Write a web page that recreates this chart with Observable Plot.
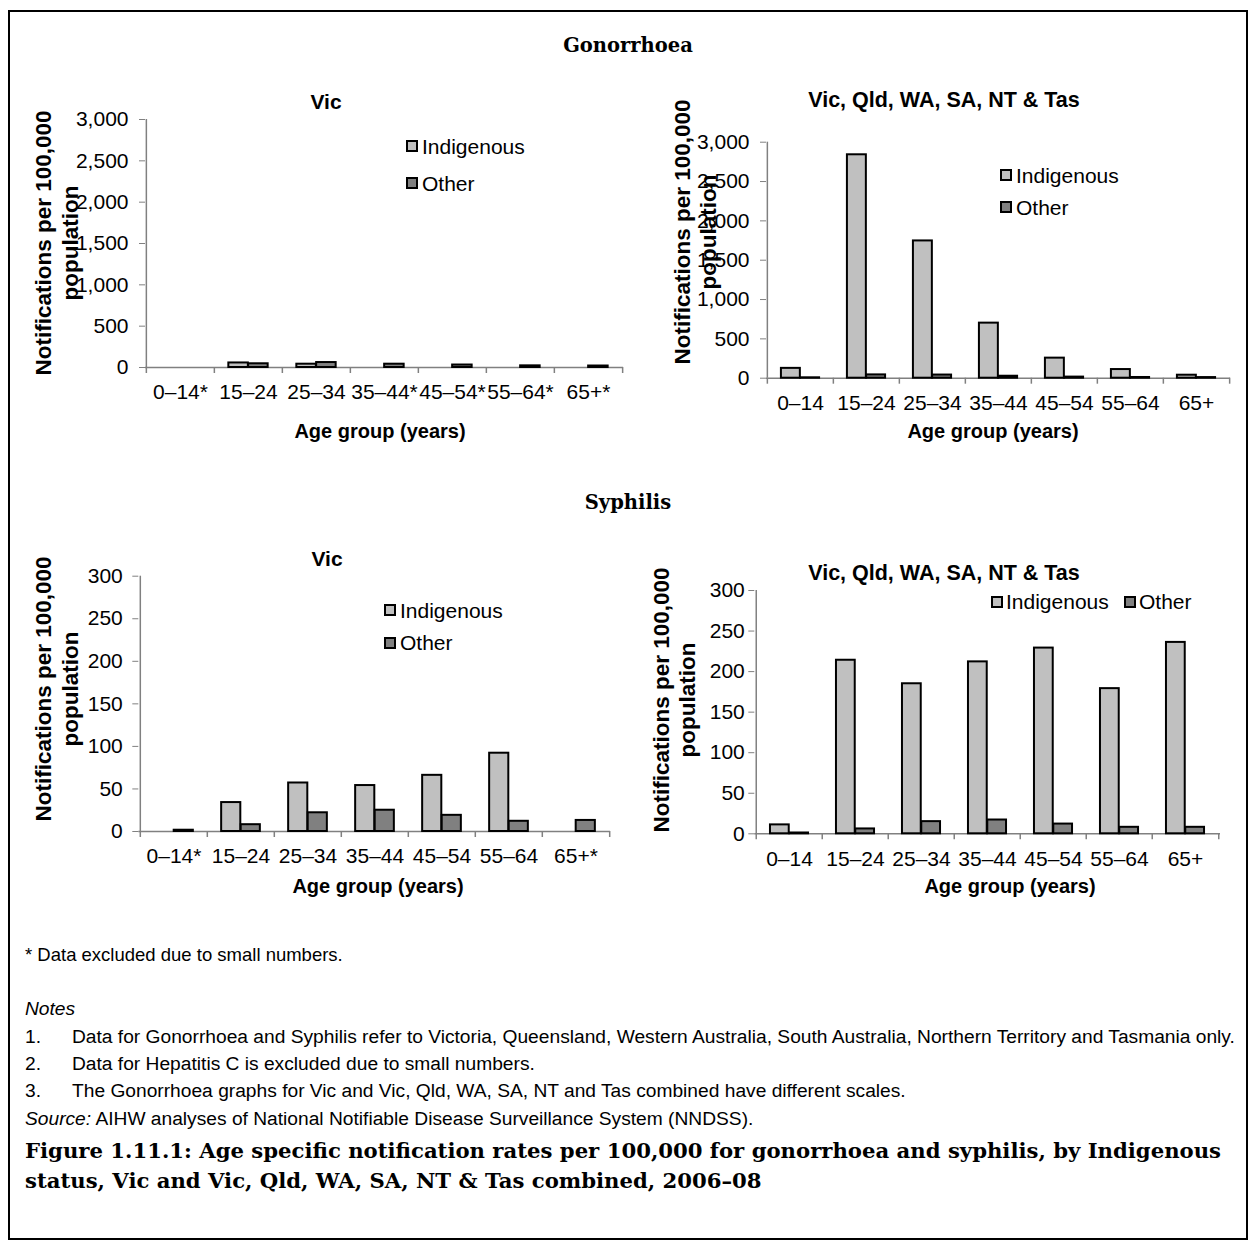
<!DOCTYPE html>
<html>
<head>
<meta charset="utf-8">
<script src="https://cdn.jsdelivr.net/npm/d3@7"></script>
<script src="https://cdn.jsdelivr.net/npm/@observablehq/plot@0.6"></script>
<style>
  body { margin: 0; background: #fff; }
  #page { position: relative; width: 1255px; height: 1247px; font-family: "Liberation Sans", Arial, sans-serif; color: #000; overflow: hidden; }
  #border { position: absolute; left: 8px; top: 10px; width: 1240px; height: 1230px; border: 2px solid #000; box-sizing: border-box; }
  .t { position: absolute; white-space: nowrap; line-height: 1; }
  .serif { font-family: "DejaVu Serif", serif; font-weight: bold; }
  .b { font-weight: bold; }
  .sw { position: absolute; box-sizing: border-box; width: 12px; height: 12px; border: 2px solid #000; }
  svg { position: absolute; }
</style>
</head>
<body>
<div id="page"><div id="border"></div></div>
<script>
// ---------------- data ----------------
const seriesNames = ["Indigenous", "Other"];
const seriesFills = ["#c0c0c0", "#808080"];

const gonVicAges = ["0–14*", "15–24", "25–34", "35–44*", "45–54*", "55–64*", "65+*"];
const gonVicIndigenous = [null, 55, 40, null, null, null, null];
const gonVicOther = [null, 45, 60, 40, 30, 20, 18];

const gonAllAges = ["0–14", "15–24", "25–34", "35–44", "45–54", "55–64", "65+"];
const gonAllIndigenous = [125, 2840, 1745, 700, 255, 110, 38];
const gonAllOther = [5, 42, 40, 25, 14, 9, 8];

const syphVicAges = ["0–14*", "15–24", "25–34", "35–44", "45–54", "55–64", "65+*"];
const syphVicIndigenous = [null, 34, 57, 54, 66, 92, null];
const syphVicOther = [1.5, 8, 22, 25, 19, 12, 13];

const syphAllAges = ["0–14", "15–24", "25–34", "35–44", "45–54", "55–64", "65+"];
const syphAllIndigenous = [11, 214, 185, 212, 229, 179, 236];
const syphAllOther = [1, 6, 15, 17, 12, 8, 8];

const gonTicks = [0, 500, 1000, 1500, 2000, 2500, 3000];
const syphTicks = [0, 50, 100, 150, 200, 250, 300];

// ---------------- helpers ----------------
const page = document.getElementById("page");
const fmt = d3.format(",");

function text(str, x, y, opts = {}) {
  const d = document.createElement("div");
  d.className = "t " + (opts.cls || "");
  d.innerHTML = str;
  d.style.left = x + "px";
  d.style.top = y + "px";
  d.style.fontSize = (opts.size || 20) + "px";
  const ax = opts.anchor === "start" ? "0" : "-50%";
  d.style.transform = `translate(${ax}, -50%)` + (opts.rotate ? ` rotate(${opts.rotate}deg)` : "");
  if (opts.align) d.style.textAlign = opts.align;
  if (opts.lh) d.style.lineHeight = opts.lh + "px";
  page.appendChild(d);
  return d;
}

function swatch(x, y, fill) {
  const s = document.createElement("div");
  s.className = "sw";
  s.style.left = x + "px";
  s.style.top = y + "px";
  s.style.background = fill;
  page.appendChild(s);
}

function chart({ages, ind, oth, ticks, sx, sy, w, h, fl, fr, ft, fb, tickPad}) {
  const ml = fl - sx, mr = sx + w - fr, mt = ft - sy, mb = sy + h - fb;
  const bw = (fr - fl) / ages.length;
  const innerH = fb - ft;
  const rows = (vals, s) => ages.map((a, i) => ({age: a, series: s, value: vals[i]})).filter(d => d.value != null);
  const axisGray = "#808080";
  const svg = Plot.plot({
    width: w, height: h,
    marginLeft: ml, marginRight: mr, marginTop: mt, marginBottom: mb,
    style: {fontFamily: '"Liberation Sans", Arial, sans-serif', fontSize: "21px", color: "#000", background: "none", overflow: "visible"},
    x: {type: "band", domain: ages, padding: 0},
    y: {domain: [0, ticks[ticks.length - 1]]},
    marks: [
      Plot.axisY({ticks, tickSize: 6, tickPadding: tickPad, tickFormat: fmt, stroke: axisGray, label: null, fontSize: 21}),
      Plot.axisX({tickSize: 0, tickPadding: 17, label: null, fontSize: 21}),
      Plot.ruleX([ages[0]], {dx: -bw / 2, stroke: axisGray, strokeWidth: 1.5}),
      Plot.ruleX(ages, {dx: -bw / 2, insetTop: innerH, insetBottom: -6, stroke: axisGray, strokeWidth: 1.5}),
      Plot.ruleX([ages[ages.length - 1]], {dx: bw / 2, insetTop: innerH, insetBottom: -6, stroke: axisGray, strokeWidth: 1.5}),
      Plot.ruleY([0], {stroke: axisGray, strokeWidth: 1.5}),
      Plot.barY(rows(ind, seriesNames[0]), {x: "age", y: "value", fill: seriesFills[0], stroke: "#000", strokeWidth: 2, insetLeft: 0.21 * bw, insetRight: 0.5 * bw}),
      Plot.barY(rows(oth, seriesNames[1]), {x: "age", y: "value", fill: seriesFills[1], stroke: "#000", strokeWidth: 2, insetLeft: 0.5 * bw, insetRight: 0.21 * bw})
    ]
  });
  svg.style.left = sx + "px";
  svg.style.top = sy + "px";
  page.appendChild(svg);
}

const yTitle = "Notifications per 100,000<br>population";
const ySize = 22.5;

// ---------------- Gonorrhoea ----------------
text("Gonorrhoea", 628, 46, {cls: "serif", size: 19.5});

chart({ages: gonVicAges, ind: gonVicIndigenous, oth: gonVicOther, ticks: gonTicks,
  sx: 0, sy: 100, w: 640, h: 320, fl: 145, fr: 623, ft: 119, fb: 367, tickPad: 11});
text("Vic", 326, 101, {cls: "b", size: 21});
text("Age group (years)", 380, 431, {cls: "b", size: 20});
text(yTitle, 57, 243, {cls: "b", size: ySize, rotate: -90, align: "center", lh: 27});
swatch(406, 140, seriesFills[0]); text("Indigenous", 422, 146, {anchor: "start", size: 21});
swatch(406, 177, seriesFills[1]); text("Other", 422, 183, {anchor: "start", size: 21});

chart({ages: gonAllAges, ind: gonAllIndigenous, oth: gonAllOther, ticks: gonTicks,
  sx: 640, sy: 110, w: 610, h: 320, fl: 766, fr: 1230, ft: 141.7, fb: 377.7, tickPad: 11});
text("Vic, Qld, WA, SA, NT &amp; Tas", 944, 101, {cls: "b", size: 21.5});
text("Age group (years)", 993, 431, {cls: "b", size: 20});
text(yTitle, 696, 232, {cls: "b", size: ySize, rotate: -90, align: "center", lh: 26});
swatch(1000, 169, seriesFills[0]); text("Indigenous", 1016, 175, {anchor: "start", size: 21});
swatch(1000, 201, seriesFills[1]); text("Other", 1016, 207, {anchor: "start", size: 21});

// ---------------- Syphilis ----------------
text("Syphilis", 628, 503, {cls: "serif", size: 19.5});

chart({ages: syphVicAges, ind: syphVicIndigenous, oth: syphVicOther, ticks: syphTicks,
  sx: 0, sy: 560, w: 640, h: 320, fl: 138.3, fr: 610, ft: 575.7, fb: 831, tickPad: 10});
text("Vic", 327, 558, {cls: "b", size: 21});
text("Age group (years)", 378, 886, {cls: "b", size: 20});
text(yTitle, 57, 689, {cls: "b", size: ySize, rotate: -90, align: "center", lh: 27});
swatch(384, 604, seriesFills[0]); text("Indigenous", 400, 610, {anchor: "start", size: 21});
swatch(384, 637, seriesFills[1]); text("Other", 400, 642, {anchor: "start", size: 21});

chart({ages: syphAllAges, ind: syphAllIndigenous, oth: syphAllOther, ticks: syphTicks,
  sx: 640, sy: 570, w: 610, h: 310, fl: 754.3, fr: 1220, ft: 590, fb: 833.3, tickPad: 4});
text("Vic, Qld, WA, SA, NT &amp; Tas", 944, 574, {cls: "b", size: 21.5});
text("Age group (years)", 1010, 886, {cls: "b", size: 20});
text(yTitle, 675, 700, {cls: "b", size: ySize, rotate: -90, align: "center", lh: 26});
swatch(991, 596, seriesFills[0]); text("Indigenous", 1006, 601, {anchor: "start", size: 21});
swatch(1124, 596, seriesFills[1]); text("Other", 1139, 601, {anchor: "start", size: 21});

// ---------------- footer ----------------
const fs = 19.2;
text("* Data excluded due to small numbers.", 25, 955, {anchor: "start", size: 18.5});
text("<i>Notes</i>", 25, 1009, {anchor: "start", size: fs});
const notes = [
  "Data for Gonorrhoea and Syphilis refer to Victoria, Queensland, Western Australia, South Australia, Northern Territory and Tasmania only.",
  "Data for Hepatitis C is excluded due to small numbers.",
  "The Gonorrhoea graphs for Vic and Vic, Qld, WA, SA, NT and Tas combined have different scales."
];
notes.forEach((n, i) => {
  text((i + 1) + ".", 25, 1037 + i * 27, {anchor: "start", size: fs});
  text(n, 72, 1037 + i * 27, {anchor: "start", size: fs});
});
text("<i>Source:</i> AIHW analyses of National Notifiable Disease Surveillance System (NNDSS).", 25, 1119, {anchor: "start", size: fs});
text("Figure 1.11.1: Age specific notification rates per 100,000 for gonorrhoea and syphilis, by Indigenous", 25, 1151, {anchor: "start", cls: "serif", size: 21.2});
text("status, Vic and Vic, Qld, WA, SA, NT &amp; Tas combined, 2006–08", 25, 1181, {anchor: "start", cls: "serif", size: 21.2});
</script>
</body>
</html>
